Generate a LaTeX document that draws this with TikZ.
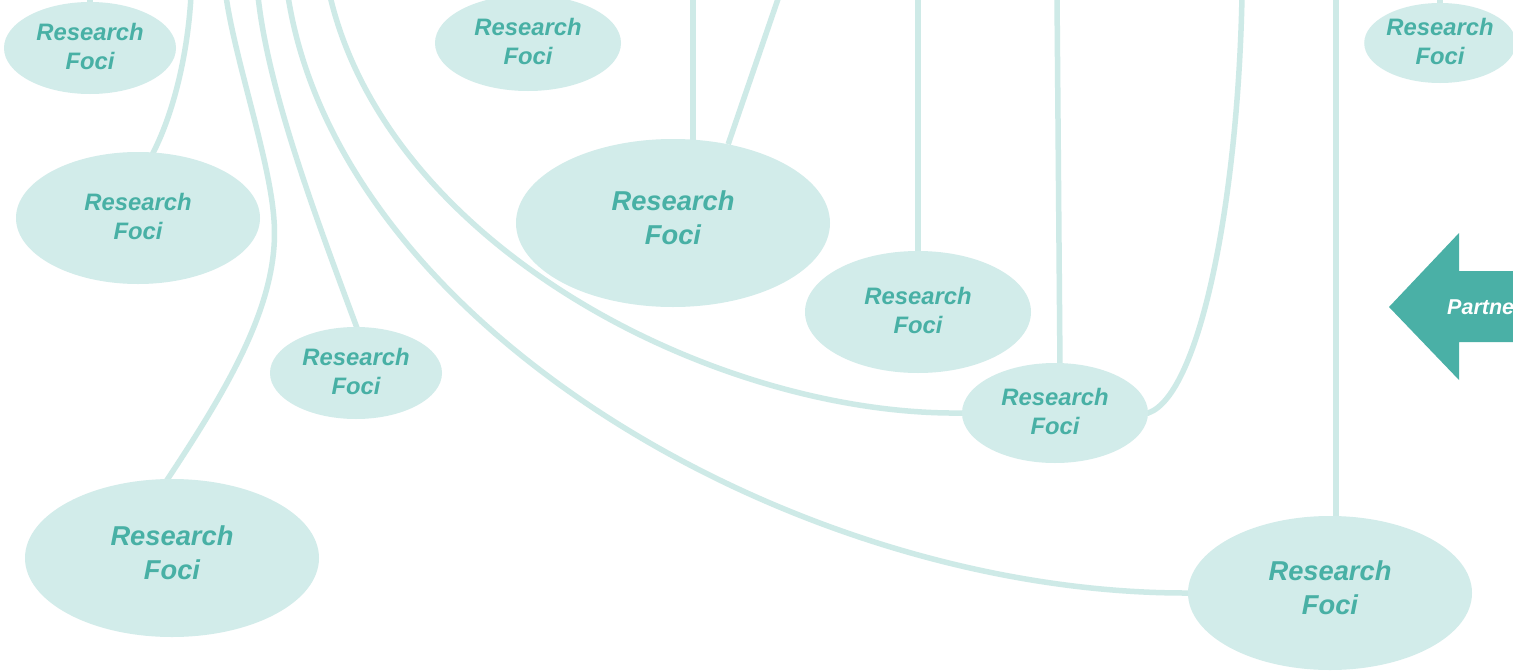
\documentclass[tikz,border=0pt]{standalone}
\usepackage{fontspec}
\setmainfont{Liberation Sans}
\usetikzlibrary{shapes.geometric}
\pgfdeclarelayer{bg}
\pgfsetlayers{bg,main}
\definecolor{rftext}{RGB}{72,176,165}
\definecolor{rffill}{RGB}{210,236,234}
\definecolor{rfline}{RGB}{206,234,231}
\definecolor{arrowteal}{RGB}{74,176,166}
\tikzset{
  rfbase/.style={ellipse, fill=rffill, inner sep=0pt, text=rftext, align=center},
  rfsmall/.style={rfbase, text depth=3pt,
    font=\fontsize{23.8}{29.5}\selectfont\bfseries\itshape},
  rflarge/.style={rfbase, text depth=11pt,
    font=\fontsize{27.3}{34}\selectfont\bfseries\itshape},
  link/.style={draw=rfline, line width=5.5pt},
}
\begin{document}
\begin{tikzpicture}[x=1pt,y=-1pt]
\useasboundingbox (0,0) rectangle (1513,672);
\clip (0,0) rectangle (1513,672);

% free ends at the top edge
\coordinate (t1) at (90,-4);
\coordinate (t2) at (191,-4);
\coordinate (t3) at (226,-4);
\coordinate (t4) at (258,-4);
\coordinate (t5) at (288,-4);
\coordinate (t6) at (330,-4);
\coordinate (t7) at (693,-4);
\coordinate (t8) at (779,-4);
\coordinate (t9) at (918,-4);
\coordinate (t10) at (1057,-4);
\coordinate (b10) at (1060,368);
\coordinate (t11) at (1242,-4);
\coordinate (t12) at (1336,-4);
\coordinate (t13) at (1440,-4);

% ellipses
\node[rfsmall, minimum width=172pt, minimum height=92pt]  (e1)  at (90,48)   {Research\\Foci};
\node[rfsmall, minimum width=244pt, minimum height=132pt] (e2)  at (138,218) {Research\\Foci};
\node[rfsmall, minimum width=172pt, minimum height=92pt]  (e3)  at (356,373) {Research\\Foci};
\node[rflarge, minimum width=294pt, minimum height=158pt] (e4)  at (172,558) {Research\\Foci};
\node[rfsmall, minimum width=186pt, minimum height=96pt]  (e5)  at (528,43)  {Research\\Foci};
\node[rflarge, minimum width=314pt, minimum height=168pt] (e6)  at (673,223) {Research\\Foci};
\node[rfsmall, minimum width=226pt, minimum height=122pt] (e7)  at (918,312) {Research\\Foci};
\node[rfsmall, minimum width=186pt, minimum height=100pt] (e8)  at (1055,413) {Research\\Foci};
\node[rflarge, minimum width=284pt, minimum height=154pt] (e9)  at (1330,593) {Research\\Foci};
\node[rfsmall, minimum width=148pt, minimum height=80pt]  (e10) at (1440,43)  {Research\\Foci};

% connectors behind the ellipses
\begin{pgfonlayer}{bg}
\fill[white] (0,0) rectangle (1513,672);
\draw[link] (t1) -- (e1.center);
\draw[link] (t2) .. controls (188,50) and (175,110) .. (153,153) -- (e2.center);
\draw[link] (t3) .. controls (235,60) and (270,160) .. (274,220)
                 .. controls (280,300) and (230,385) .. (167,480) -- (e4.center);
\draw[link] (t4) .. controls (268,90) and (315,215) .. (357,328) -- (e3.center);
\draw[link] (t5) .. controls (340,330) and (800,594) .. (e9.west) -- (e9.center);
\draw[link] (t6) .. controls (390,250) and (720,416) .. (e8.west) -- (e8.center);
\draw[link] (t7) -- (t7 |- e6.center);
\draw[link] (t8) -- (e6.55);
\draw[link] (t9) -- (e7.center);
\draw[link] (t10) -- (b10) -- (e8.center);
\draw[link] (t11) .. controls (1238,200) and (1200,395) .. (e8.east) -- (e8.center);
\draw[link] (t12) -- (t12 |- e9.center);
\draw[link] (t13) -- (e10.center);
\end{pgfonlayer}

% partners arrow
\fill[arrowteal] (1389,307) -- (1459,233) -- (1459,271) -- (1520,271)
  -- (1520,342) -- (1459,342) -- (1459,380) -- cycle;
\node[anchor=west, text=white, inner sep=0pt,
  font=\fontsize{21.5}{25}\selectfont\bfseries\itshape] (partners) at (1447,307) {Partners};
\end{tikzpicture}
\end{document}
